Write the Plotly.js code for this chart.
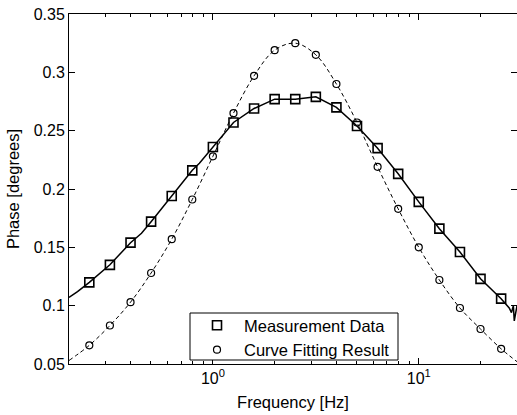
<!DOCTYPE html>
<html>
<head>
<meta charset="utf-8">
<script src="https://cdn.plot.ly/plotly-3.0.1.min.js"></script>
<style>html,body{margin:0;padding:0;background:#fff}#plot{width:517px;height:415px}</style>
</head>
<body>
<div id="plot"></div>
<script>
// Marker frequencies [Hz]
const freq = [0.251,0.316,0.398,0.501,0.631,0.794,1.0,1.259,1.585,1.995,2.512,3.162,3.981,5.012,6.31,7.943,10.0,12.59,15.85,19.95,25.12];
// Measurement data (squares)
const meas = [0.120,0.135,0.154,0.172,0.194,0.216,0.236,0.257,0.269,0.277,0.277,0.279,0.270,0.254,0.235,0.213,0.189,0.166,0.146,0.123,0.106];
// Curve fitting result (circles)
const fit = [0.066,0.083,0.103,0.128,0.157,0.191,0.228,0.265,0.297,0.319,0.325,0.315,0.290,0.257,0.219,0.183,0.150,0.122,0.098,0.080,0.063];

const measLineF = [0.2,0.22,0.251,0.316,0.398,0.45,0.501,0.631,0.794,0.86,1.0,1.259,1.585,1.995,2.512,3.162,3.981,5.012,6.31,7.943,10.0,12.59,15.85,19.95,25.12,27.5,28.2,28.8,29.1,29.6,30];
const measLineV = [0.107,0.112,0.120,0.135,0.154,0.162,0.172,0.194,0.216,0.222,0.236,0.257,0.269,0.277,0.277,0.279,0.270,0.254,0.235,0.213,0.189,0.166,0.146,0.123,0.106,0.098,0.094,0.100,0.087,0.097,0.100];
// Continuous fitted curve
const fitLineF = [0.2].concat(freq, [30]);
const fitLineV = [0.053].concat(fit, [0.052]);

const yTicks = [0.05,0.1,0.15,0.2,0.25,0.3,0.35];
const yTickText = ['0.05','0.1','0.15','0.2','0.25','0.3','0.35'];
const xTicks = [1,10];
const xTickText = ['10<sup>0</sup>','10<sup>1</sup>'];
const xMinor = [0.2,0.3,0.4,0.5,0.6,0.7,0.8,0.9,2,3,4,5,6,7,8,9,20,30];

const FONT = 'Liberation Sans, Arial, Helvetica, sans-serif';

const traces = [
  {x: measLineF, y: measLineV, mode: 'lines', line: {color: '#000', width: 1.5}, showlegend: false, hoverinfo: 'skip'},
  {x: fitLineF, y: fitLineV, mode: 'lines', line: {color: '#000', width: 1, dash: '4px,3px', shape: 'spline'}, showlegend: false, hoverinfo: 'skip'},
  {x: freq, y: meas, mode: 'markers', name: 'Measurement Data',
   marker: {symbol: 'square-open', size: 9, color: '#000', line: {width: 1.6, color: '#000'}}},
  {x: freq, y: fit, mode: 'markers', name: 'Curve Fitting Result',
   marker: {symbol: 'circle-open', size: 7, color: '#000', line: {width: 1.2, color: '#000'}}}
];

const layout = {
  width: 517, height: 415,
  margin: {l: 69, r: 0, t: 14, b: 51, pad: 0},
  paper_bgcolor: '#fff', plot_bgcolor: '#fff',
  font: {family: FONT, size: 16, color: '#000'},
  showlegend: true,
  legend: {x: 0.2701, y: -0.0086, xanchor: 'left', yanchor: 'bottom',
           borderwidth: 0, bgcolor: 'rgba(0,0,0,0)',
           font: {family: FONT, size: 16.5, color: '#000'},
           itemwidth: 44, tracegroupgap: 0},
  shapes: [{type: 'rect', xref: 'paper', yref: 'paper', layer: 'above',
            x0: 0.2701, x1: 0.7344, y0: 0.0114, y1: 0.1457,
            line: {color: '#000', width: 1}, fillcolor: '#fff'}],
  xaxis: {
    type: 'log', range: [Math.log10(0.2), Math.log10(30)],
    tickmode: 'array', tickvals: xTicks, ticktext: xTickText,
    ticks: 'inside', ticklen: 6, tickcolor: '#000', tickwidth: 1,
    minor: {tickmode: 'array', tickvals: xMinor, ticks: 'inside', ticklen: 3, tickcolor: '#000', tickwidth: 1, showgrid: false},
    showline: true, linecolor: '#000', linewidth: 1, mirror: 'ticks',
    showgrid: false, zeroline: false,
    tickfont: {family: FONT, size: 16, color: '#000'},
    title: {text: 'Frequency [Hz]', font: {family: FONT, size: 16.5, color: '#000'}, standoff: 10}
  },
  yaxis: {
    range: [0.05, 0.35],
    tickmode: 'array', tickvals: yTicks, ticktext: yTickText,
    ticks: 'inside', ticklen: 6, tickcolor: '#000', tickwidth: 1,
    showline: true, linecolor: '#000', linewidth: 1, mirror: 'ticks',
    showgrid: false, zeroline: false,
    tickfont: {family: FONT, size: 16, color: '#000'},
    title: {text: 'Phase [degrees]', font: {family: FONT, size: 16.5, color: '#000'}, standoff: 9}
  }
};

Plotly.newPlot('plot', traces, layout, {displayModeBar: false, staticPlot: true});
</script>
</body>
</html>
